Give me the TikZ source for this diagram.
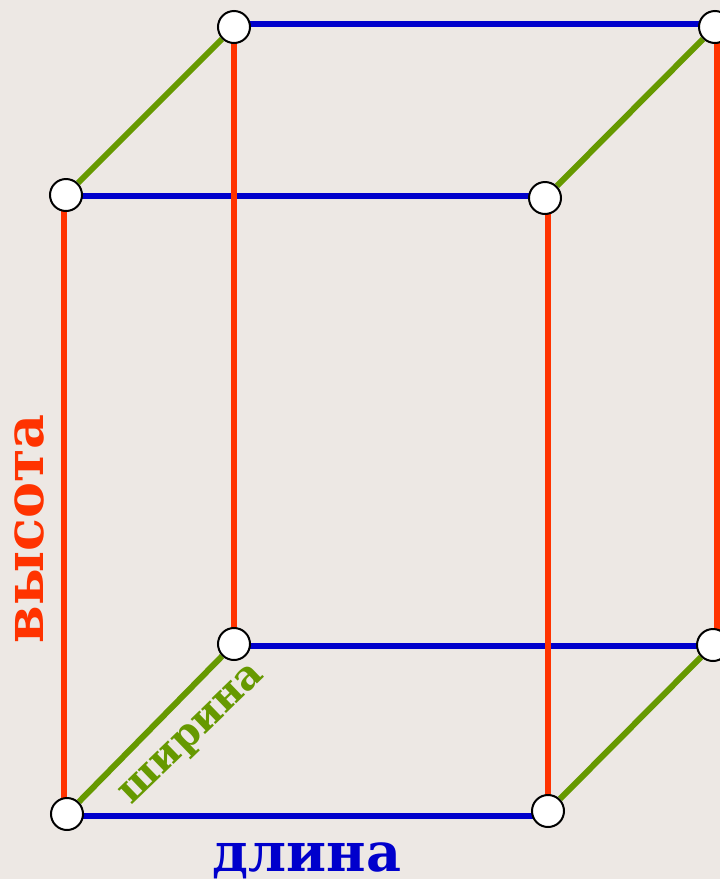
\documentclass[tikz,border=0pt]{standalone}
\usepackage{fontspec}
\newfontfamily\capfont{DejaVu Serif}
\usetikzlibrary{backgrounds}
\definecolor{fonbg}{HTML}{EDE8E4}
\definecolor{vysred}{HTML}{FF3300}
\definecolor{dlinblue}{HTML}{0000CC}
\definecolor{shirgreen}{HTML}{669900}
\tikzset{
  vertex/.style={circle,draw=black,line width=2pt,fill=white,minimum size=32pt,inner sep=0pt},
  edge/.style={line width=6pt},
  caption/.style={inner sep=0pt,font=\capfont\bfseries\fontsize{#1}{#1}\selectfont},
}
\begin{document}
\begin{tikzpicture}[x=1pt,y=-1pt]
    \useasboundingbox (0,0) rectangle (720,879);
    \begin{pgfonlayer}{background}
        \fill[fonbg] (0,0) rectangle (720,879);
    \end{pgfonlayer}

    % Вершины
    \node[vertex] (backtopleft) at (234,27) {};
    \node[vertex] (backtopright) at (715,27) {};
    \node[vertex] (fronttopleft) at (66,195) {};
    \node[vertex] (fronttopright) at (545,198) {};
    \node[vertex] (backbotleft) at (234,644) {};
    \node[vertex] (backbotright) at (713,645) {};
    \node[vertex] (frontbotleft) at (67,814) {};
    \node[vertex] (frontbotright) at (548,811) {};

    \begin{pgfonlayer}{background}
        % Длина
        \draw[edge,dlinblue] ([yshift=3.5pt]backtopleft.center) -- ([yshift=3.5pt]backtopright.center);
        \draw[edge,dlinblue] ([yshift=-1pt]fronttopleft.center) -- ([yshift=2pt]fronttopright.center);
        \draw[edge,dlinblue] ([yshift=-2pt]backbotleft.center) -- ([yshift=-1pt]backbotright.center);
        \draw[edge,dlinblue] ([yshift=-2pt]frontbotleft.center) -- ([yshift=-5pt]frontbotright.center);

        % Высота
        \draw[edge,vysred] (backtopleft.center) -- (backbotleft.center);
        \draw[edge,vysred] ([xshift=2pt]backtopright.center) -- ([xshift=4pt]backbotright.center);
        \draw[edge,vysred] ([xshift=-2pt]fronttopleft.center) -- ([xshift=-3pt]frontbotleft.center);
        \draw[edge,vysred] ([xshift=3pt]fronttopright.center) -- (frontbotright.center);

        % Ширина
        \draw[edge,shirgreen] (fronttopleft) -- (backtopleft);
        \draw[edge,shirgreen] (fronttopright) -- (backtopright);
        \draw[edge,shirgreen] (frontbotleft) -- (backbotleft);
        \draw[edge,shirgreen] (frontbotright) -- (backbotright);
    \end{pgfonlayer}

    % Подписи
    \node[caption=54,text=vysred,rotate=90] (vysota) at (29,529) {высота};
    \node[caption=40,text=shirgreen,rotate=44] (shirina) at (194,736) {ширина};
    \node[caption=54,text=dlinblue] (dlina) at (307,861) {длина};
\end{tikzpicture}
\end{document}
